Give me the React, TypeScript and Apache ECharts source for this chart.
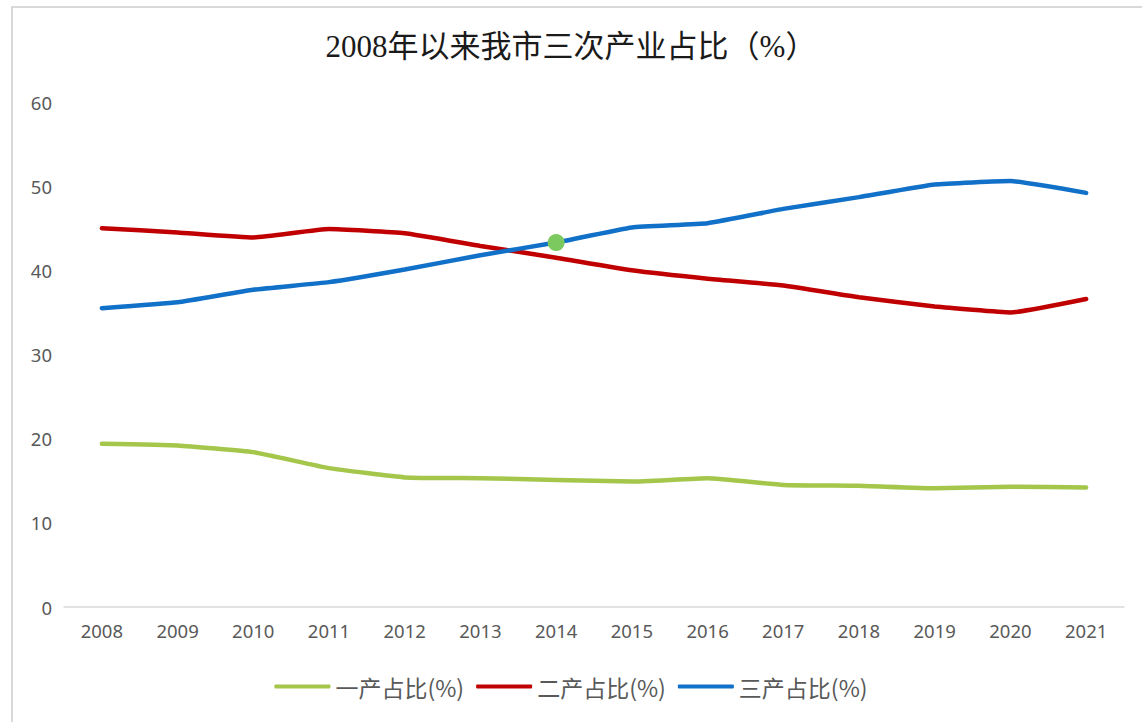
import React, { useEffect, useRef } from "react";
import * as echarts from "echarts";

const years = ["2008", "2009", "2010", "2011", "2012", "2013", "2014", "2015", "2016", "2017", "2018", "2019", "2020", "2021"];
const primary = [19.4, 19.2, 18.4, 16.5, 15.4, 15.3, 15.1, 14.9, 15.3, 14.5, 14.4, 14.1, 14.3, 14.2];
const secondary = [45.0, 44.5, 43.9, 44.9, 44.4, 42.9, 41.5, 40.0, 39.0, 38.2, 36.8, 35.7, 35.0, 36.6];
const tertiary = [35.5, 36.2, 37.7, 38.6, 40.1, 41.8, 43.3, 45.1, 45.6, 47.3, 48.7, 50.2, 50.6, 49.2];
const seriesNames = ["一产占比(%)", "二产占比(%)", "三产占比(%)"];
const highlightIndex = 6;
const titleText = "2008年以来我市三次产业占比（%）";

export default function App() {
  const ref = useRef<HTMLDivElement>(null);
  useEffect(() => {
    if (!ref.current) return;
    const chart = echarts.init(ref.current, null, { renderer: "svg" });
    const font = "'Noto Sans', 'Noto Sans CJK SC', sans-serif";
    const tertiaryData = tertiary.map((v, i) =>
      i === highlightIndex
        ? { value: v, symbol: "circle", symbolSize: 17, itemStyle: { color: "#7CC95F" } }
        : v
    );
    chart.setOption({
      animation: false,
      backgroundColor: "#ffffff",
      title: {
        text: titleText,
        left: "center",
        top: 26,
        textStyle: {
          fontFamily: "'Liberation Serif', 'Noto Sans CJK SC', serif",
          fontSize: 31,
          fontWeight: "normal",
          color: "#1a1a1a",
        },
      },
      graphic: [
        {
          type: "polyline",
          shape: { points: [[12, 722], [12, 7], [1142, 7]] },
          style: { stroke: "#D9D9D9", lineWidth: 2, fill: "none" },
          silent: true,
        },
      ],
      legend: {
        bottom: 19,
        left: "center",
        icon: "roundRect",
        itemWidth: 56,
        itemHeight: 4,
        itemGap: 12,
        textStyle: { fontFamily: "'Noto Sans CJK SC', sans-serif", fontSize: 23, color: "#595959" },
        data: seriesNames,
      },
      grid: { left: 64, right: 18, top: 102, bottom: 115 },
      xAxis: {
        type: "category",
        data: years,
        boundaryGap: true,
        axisLine: { lineStyle: { color: "#D9D9D9", width: 1.5 } },
        axisTick: { show: false },
        axisLabel: { fontFamily: font, fontSize: 18.5, color: "#595959", margin: 14 },
      },
      yAxis: {
        type: "value",
        min: 0,
        max: 60,
        interval: 10,
        axisLine: { show: false },
        axisTick: { show: false },
        splitLine: { show: false },
        axisLabel: { fontFamily: font, fontSize: 18.5, color: "#595959", margin: 12 },
      },
      series: [
        {
          name: seriesNames[0],
          type: "line",
          data: primary,
          smooth: 0.12,
          symbol: "none",
          lineStyle: { color: "#A4C64B", width: 4.5, cap: "round" },
          itemStyle: { color: "#A4C64B" },
        },
        {
          name: seriesNames[1],
          type: "line",
          data: secondary,
          smooth: 0.12,
          symbol: "none",
          lineStyle: { color: "#C00000", width: 4.5, cap: "round" },
          itemStyle: { color: "#C00000" },
        },
        {
          name: seriesNames[2],
          type: "line",
          data: tertiaryData,
          smooth: 0.12,
          symbol: "none",
          lineStyle: { color: "#1170C8", width: 4.5, cap: "round" },
          itemStyle: { color: "#1170C8" },
          z: 3,
        },
      ],
    });
    return () => chart.dispose();
  }, []);
  return (
    <div
      ref={ref}
      style={{ position: "absolute", left: 0, top: 0, width: 1142, height: 722 }}
    />
  );
}
